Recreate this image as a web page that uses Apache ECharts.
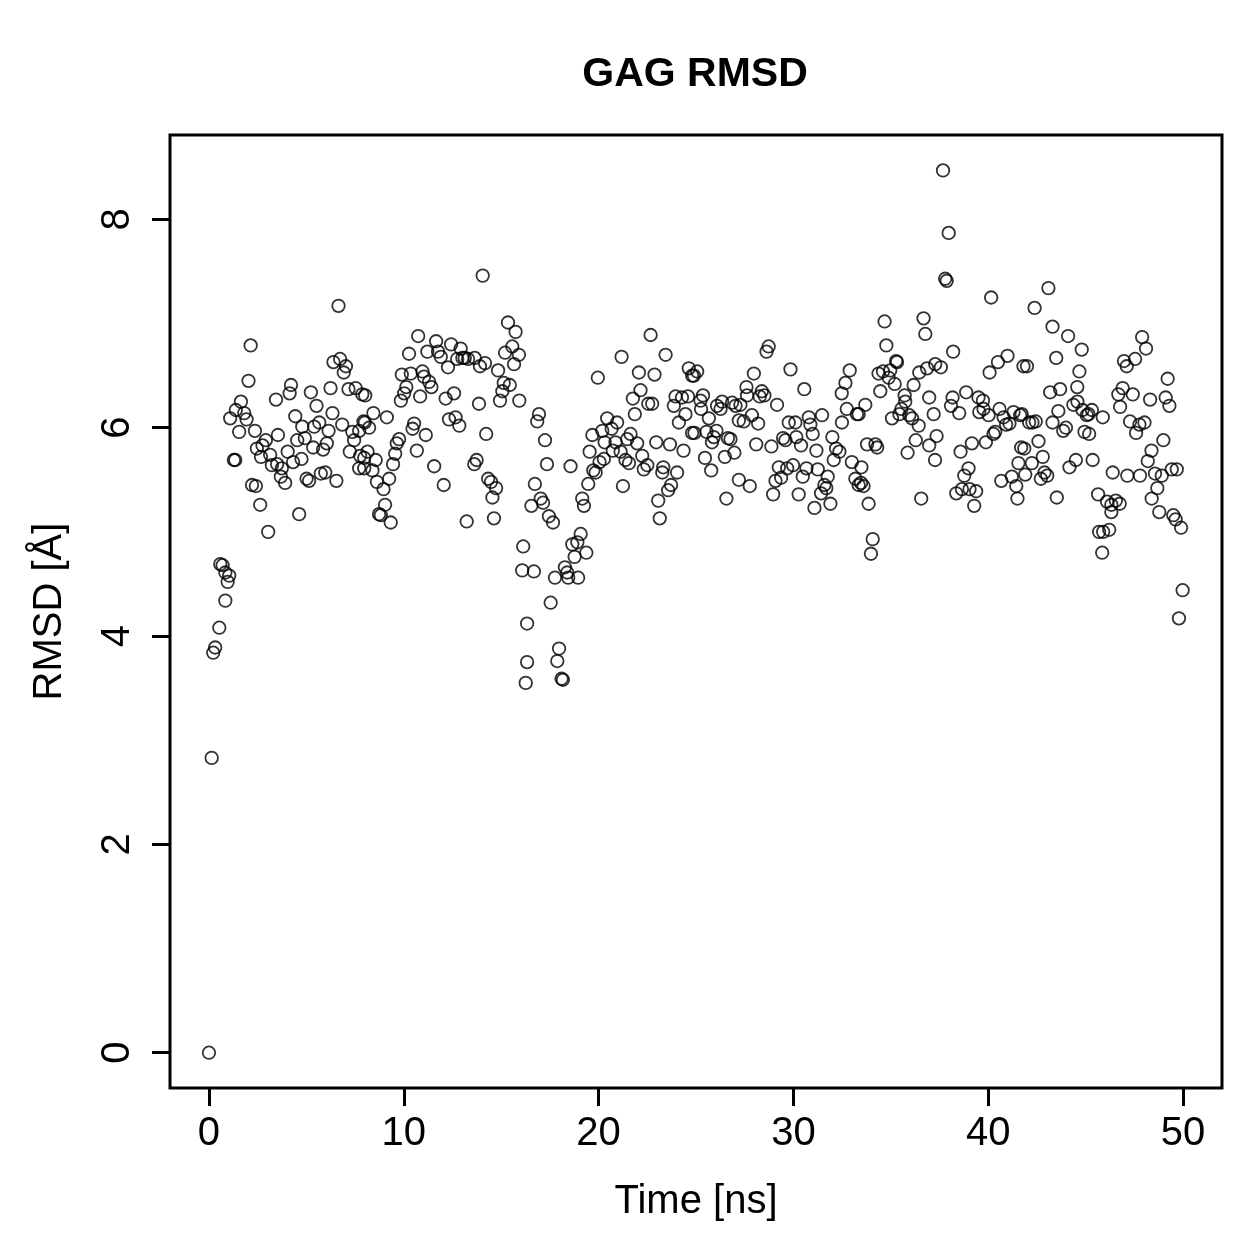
<!DOCTYPE html>
<html>
<head>
<meta charset="utf-8">
<script src="https://cdn.jsdelivr.net/npm/echarts@6/dist/echarts.min.js"></script>
<style>
  html, body { margin: 0; padding: 0; background: #fff; }
  #chart { width: 1259px; height: 1259px; }
</style>
</head>
<body>
<div id="chart"></div>
<script>
// tick labels
const xTicks = [0, 10, 20, 30, 40, 50];
const yTicks = [0, 2, 4, 6, 8];

// [time in ns, RMSD in Å]
const rmsdPoints = [
  [0, 0], [0.14, 2.83], [0.22, 3.84], [0.32, 3.89], [0.53, 4.08], [0.84, 4.34], [0.58, 4.69], [0.70, 4.68],
  [0.84, 4.61], [1.04, 4.58], [0.96, 4.52],
  [6.65, 7.17], [2.14, 6.79], [2.03, 6.45], [1.64, 6.25], [1.38, 6.17], [1.81, 6.14], [1.09, 6.09], [1.93, 6.08],
  [1.55, 5.96], [2.36, 5.97], [1.28, 5.69], [1.35, 5.69], [2.21, 5.45], [2.41, 5.44], [2.63, 5.26], [3.04, 5.00],
  [3.44, 6.27], [4.21, 6.41], [4.14, 6.33], [5.23, 6.34], [5.52, 6.21], [6.24, 6.38], [6.39, 6.63], [6.73, 6.66],
  [7.03, 6.59], [6.92, 6.53], [7.16, 6.37], [7.53, 6.38], [7.87, 6.32], [4.43, 6.11], [6.34, 6.14], [6.84, 6.03],
  [7.93, 6.06], [4.79, 6.01], [5.66, 6.05], [5.40, 6.01], [6.14, 5.97], [7.36, 5.96], [7.71, 5.97], [3.54, 5.93],
  [4.53, 5.88], [4.92, 5.90], [7.45, 5.88], [2.92, 5.88], [2.75, 5.83], [2.46, 5.80], [5.35, 5.81], [6.05, 5.85],
  [5.86, 5.79], [2.67, 5.72], [3.14, 5.74], [4.04, 5.77], [7.23, 5.77], [7.76, 5.73], [3.23, 5.64], [3.50, 5.65],
  [3.74, 5.61], [4.32, 5.67], [4.75, 5.70], [3.69, 5.53], [3.91, 5.47], [5.14, 5.49], [5.01, 5.51], [5.74, 5.56],
  [5.97, 5.57], [6.54, 5.49], [7.71, 5.61], [4.63, 5.17],
  // 8 - 16 ns
  [14.05, 7.46], [15.35, 7.01], [15.74, 6.92], [10.74, 6.88], [11.66, 6.83], [12.43, 6.80], [10.27, 6.71], [11.21, 6.73],
  [11.76, 6.73], [11.90, 6.68], [12.92, 6.76], [13.01, 6.67], [13.13, 6.67], [13.30, 6.66], [13.64, 6.67], [13.91, 6.59],
  [14.17, 6.62], [12.27, 6.58], [12.74, 6.66], [15.57, 6.78], [15.20, 6.72], [15.91, 6.70], [15.66, 6.61], [14.84, 6.55],
  [9.90, 6.51], [10.36, 6.52], [10.96, 6.54], [11.04, 6.49], [11.30, 6.44], [11.42, 6.39], [10.13, 6.39], [15.13, 6.43],
  [15.44, 6.41], [15.06, 6.35], [10.02, 6.33], [9.85, 6.26], [10.84, 6.30], [12.15, 6.28], [12.58, 6.33], [14.94, 6.26],
  [15.93, 6.26], [13.86, 6.23], [8.02, 6.31], [8.44, 6.14], [9.13, 6.10], [8.00, 6.05], [8.22, 6.00], [12.32, 6.08],
  [12.66, 6.10], [12.85, 6.02], [10.53, 6.04], [10.45, 5.99], [11.13, 5.93], [14.23, 5.94], [9.76, 5.89], [9.64, 5.85],
  [9.56, 5.75], [10.67, 5.78], [8.14, 5.77], [7.97, 5.71], [8.56, 5.69], [9.45, 5.65], [11.56, 5.63], [13.62, 5.65],
  [13.74, 5.69], [7.97, 5.61], [8.39, 5.59], [9.25, 5.51], [8.62, 5.48], [8.96, 5.41], [12.05, 5.45], [14.33, 5.51],
  [14.48, 5.48], [14.74, 5.42], [14.55, 5.33], [9.04, 5.26], [8.73, 5.17], [8.82, 5.16], [9.33, 5.09], [13.23, 5.10],
  [14.63, 5.13], [16.13, 4.86], [16.08, 4.63], [16.33, 4.12], [16.33, 3.75], [16.26, 3.55],
  // 16 - 25 ns
  [22.67, 6.89], [21.18, 6.68], [23.44, 6.70], [19.96, 6.48], [22.07, 6.53], [22.87, 6.51], [24.63, 6.57], [24.80, 6.50],
  [22.15, 6.36], [21.76, 6.28], [22.55, 6.23], [22.75, 6.23], [23.95, 6.30], [24.28, 6.29], [24.59, 6.30], [23.86, 6.21],
  [21.86, 6.13], [24.46, 6.13], [24.12, 6.05], [24.80, 5.95], [16.94, 6.13], [16.85, 6.06], [17.25, 5.88], [17.35, 5.65],
  [18.56, 5.63], [16.73, 5.46], [17.03, 5.32], [17.15, 5.28], [16.55, 5.25], [17.45, 5.15], [17.66, 5.09], [20.44, 6.09],
  [20.95, 6.05], [20.67, 5.99], [20.19, 5.97], [19.68, 5.93], [21.64, 5.94], [21.47, 5.89], [21.98, 5.85], [22.96, 5.86],
  [23.66, 5.84], [24.36, 5.78], [20.31, 5.86], [19.54, 5.77], [20.87, 5.86], [20.73, 5.78], [21.13, 5.77], [22.24, 5.73],
  [20.27, 5.70], [20.05, 5.67], [21.38, 5.69], [21.56, 5.66], [22.50, 5.64], [22.32, 5.60], [19.73, 5.59], [19.85, 5.57],
  [23.32, 5.62], [23.27, 5.57], [24.03, 5.57], [19.47, 5.46], [21.25, 5.44], [23.72, 5.45], [23.57, 5.40], [19.16, 5.32],
  [19.25, 5.25], [23.06, 5.30], [23.14, 5.13], [19.08, 4.98], [18.65, 4.88], [18.91, 4.90], [19.37, 4.80], [18.77, 4.76],
  [18.27, 4.66], [18.39, 4.61], [17.76, 4.56], [18.44, 4.56], [18.95, 4.56], [16.68, 4.62], [17.54, 4.32], [17.97, 3.88],
  [17.88, 3.76], [18.10, 3.59], [18.17, 3.58],
  // 25 - 33 ns
  [28.73, 6.78], [28.62, 6.73], [29.85, 6.56], [27.97, 6.52], [32.89, 6.55], [25.06, 6.54], [24.89, 6.50], [27.59, 6.39],
  [30.56, 6.37], [32.67, 6.43], [32.48, 6.33], [28.38, 6.35], [28.51, 6.31], [28.27, 6.30], [25.36, 6.31], [27.62, 6.31],
  [25.23, 6.26], [26.34, 6.25], [26.85, 6.24], [27.28, 6.22], [29.16, 6.22], [26.08, 6.21], [26.26, 6.18], [27.03, 6.21],
  [25.26, 6.18], [32.74, 6.18], [33.26, 6.13], [25.66, 6.09], [27.87, 6.12], [27.20, 6.07], [27.45, 6.06], [28.19, 6.04],
  [29.76, 6.05], [30.10, 6.05], [30.79, 6.10], [31.47, 6.12], [30.87, 6.03], [32.49, 6.05], [24.92, 5.95], [25.54, 5.96],
  [26.05, 5.97], [25.91, 5.91], [25.82, 5.86], [26.64, 5.90], [26.77, 5.89], [28.09, 5.84], [28.87, 5.82], [29.47, 5.90],
  [29.59, 5.88], [30.15, 5.91], [30.39, 5.83], [30.99, 5.94], [32.00, 5.91], [31.18, 5.78], [32.19, 5.80], [32.36, 5.77],
  [32.07, 5.69], [26.97, 5.76], [26.48, 5.72], [25.46, 5.71], [25.78, 5.59], [27.20, 5.50], [27.76, 5.44], [26.56, 5.32],
  [29.25, 5.62], [29.68, 5.61], [29.98, 5.64], [30.67, 5.61], [31.25, 5.60], [29.08, 5.49], [29.37, 5.52], [30.48, 5.53],
  [31.76, 5.53], [31.59, 5.45], [31.69, 5.42], [31.42, 5.37], [28.96, 5.36], [30.27, 5.36], [31.90, 5.27], [31.08, 5.23],
  [33.00, 5.67], [33.18, 5.51], [33.35, 5.45],
  // 33 - 42 ns
  [37.68, 8.47], [37.97, 7.87], [37.79, 7.43], [37.87, 7.41], [40.15, 7.25], [34.68, 7.02], [36.68, 7.05], [36.77, 6.90],
  [34.77, 6.79], [38.20, 6.73], [35.27, 6.64], [35.32, 6.63], [40.99, 6.69], [40.50, 6.63], [40.07, 6.53], [41.81, 6.59],
  [34.37, 6.52], [34.60, 6.54], [34.97, 6.55], [34.89, 6.48], [35.20, 6.42], [36.46, 6.53], [36.86, 6.57], [37.28, 6.61],
  [37.57, 6.58], [36.17, 6.41], [34.46, 6.35], [33.69, 6.22], [33.35, 6.13], [35.71, 6.31], [35.74, 6.25], [35.54, 6.18],
  [35.44, 6.13], [35.06, 6.09], [35.95, 6.12], [36.09, 6.09], [36.43, 6.02], [36.97, 6.29], [37.20, 6.13], [38.17, 6.29],
  [38.09, 6.21], [38.51, 6.14], [38.87, 6.34], [39.50, 6.29], [39.73, 6.26], [39.54, 6.15], [40.02, 6.12], [39.76, 6.18],
  [40.58, 6.18], [40.79, 6.10], [41.30, 6.15], [41.64, 6.12], [40.92, 6.03], [41.09, 6.04], [40.36, 5.96], [40.27, 5.94],
  [36.28, 5.88], [37.35, 5.92], [36.97, 5.83], [37.27, 5.69], [35.86, 5.76], [33.78, 5.84], [34.21, 5.84], [34.30, 5.81],
  [39.16, 5.85], [39.88, 5.86], [38.58, 5.77], [38.99, 5.61], [38.77, 5.54], [41.69, 5.81], [41.55, 5.66], [33.49, 5.62],
  [33.47, 5.47], [33.60, 5.44], [40.67, 5.49], [41.21, 5.53], [41.44, 5.44], [41.50, 5.32], [38.65, 5.41], [39.04, 5.41],
  [39.38, 5.39], [38.36, 5.37], [39.28, 5.25], [36.56, 5.32], [33.86, 5.27], [34.07, 4.93], [33.98, 4.79],
  // 42 - 50 ns
  [43.09, 7.34], [42.38, 7.15], [43.30, 6.97], [44.10, 6.88], [44.80, 6.75], [43.49, 6.67], [41.99, 6.59], [44.68, 6.54],
  [47.90, 6.87], [48.10, 6.76], [46.97, 6.64], [47.11, 6.59], [47.54, 6.66], [49.21, 6.47], [44.57, 6.39], [43.18, 6.34],
  [43.69, 6.37], [46.90, 6.38], [46.68, 6.32], [47.42, 6.32], [48.31, 6.27], [49.11, 6.29], [49.30, 6.21], [44.58, 6.25],
  [44.37, 6.22], [44.84, 6.17], [45.32, 6.17], [45.15, 6.13], [45.06, 6.12], [45.88, 6.10], [43.60, 6.16], [46.77, 6.20],
  [41.72, 6.13], [42.10, 6.05], [42.27, 6.05], [42.44, 6.06], [43.30, 6.05], [43.85, 5.97], [43.99, 6.00], [44.94, 5.96],
  [45.18, 5.94], [47.28, 6.06], [47.59, 5.95], [47.76, 6.03], [48.02, 6.05], [48.99, 5.88], [42.58, 5.87], [41.85, 5.80],
  [48.38, 5.78], [42.80, 5.72], [44.50, 5.69], [44.17, 5.62], [45.36, 5.69], [48.19, 5.68], [42.24, 5.66], [41.90, 5.55],
  [42.89, 5.57], [43.03, 5.54], [42.70, 5.51], [46.39, 5.57], [47.14, 5.54], [47.79, 5.54], [48.56, 5.56], [48.91, 5.54],
  [49.42, 5.60], [49.68, 5.60], [48.68, 5.42], [48.39, 5.32], [48.78, 5.19], [49.50, 5.16], [49.62, 5.12], [49.90, 5.04],
  [43.52, 5.33], [45.64, 5.36], [46.10, 5.29], [46.32, 5.26], [46.55, 5.30], [46.75, 5.27], [46.32, 5.19], [45.69, 5.00],
  [45.90, 5.00], [46.21, 5.02], [45.85, 4.80], [49.98, 4.44], [49.79, 4.17]
];

const FONT = "'Liberation Sans', Arial, Helvetica, sans-serif";

const chart = echarts.init(document.getElementById('chart'), null, { renderer: 'canvas' });

chart.setOption({
  animation: false,
  backgroundColor: '#fff',
  title: {
    text: 'GAG RMSD',
    left: 690,
    top: 49,
    textAlign: 'center',
    textStyle: { fontFamily: FONT, fontSize: 41, fontWeight: 'bold', color: '#000' }
  },
  grid: {
    left: 170,
    right: 37,
    top: 135,
    bottom: 171,
    show: true,
    borderColor: '#000',
    borderWidth: 3,
    backgroundColor: 'transparent'
  },
  xAxis: {
    type: 'value',
    min: -2,
    max: 52,
    name: 'Time [ns]',
    nameLocation: 'middle',
    nameGap: 94,
    nameTextStyle: { fontFamily: FONT, fontSize: 40, color: '#000' },
    axisLine: { show: false, onZero: false },
    axisTick: {
      show: true,
      customValues: xTicks,
      length: 18,
      lineStyle: { color: '#000', width: 3 }
    },
    axisLabel: {
      customValues: xTicks,
      margin: 26,
      fontFamily: FONT,
      fontSize: 40,
      color: '#000'
    },
    splitLine: { show: false }
  },
  yAxis: {
    type: 'value',
    min: -0.339,
    max: 8.81,
    name: 'RMSD [Å]',
    nameLocation: 'middle',
    nameGap: 100,
    nameTextStyle: { fontFamily: FONT, fontSize: 40, color: '#000' },
    axisLine: { show: false, onZero: false },
    axisTick: {
      show: true,
      customValues: yTicks,
      length: 18,
      lineStyle: { color: '#000', width: 3 }
    },
    axisLabel: {
      customValues: yTicks,
      rotate: 90,
      margin: 32,
      fontFamily: FONT,
      fontSize: 40,
      color: '#000'
    },
    splitLine: { show: false }
  },
  series: [{
    type: 'scatter',
    data: rmsdPoints,
    symbol: 'circle',
    symbolSize: 12.5,
    itemStyle: { color: 'rgba(0,0,0,0)', borderColor: '#000', borderWidth: 1.8 },
    emphasis: { disabled: true }
  }]
});
</script>
</body>
</html>
